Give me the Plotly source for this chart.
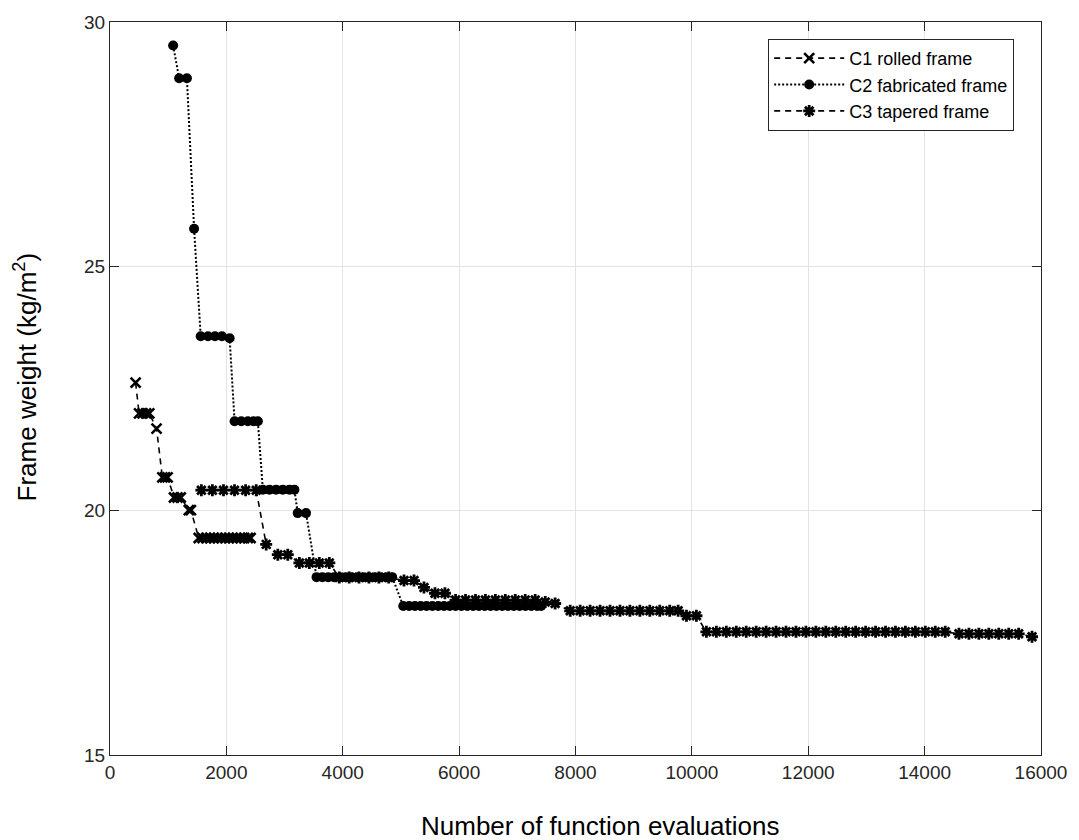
import plotly.graph_objects as go

# ---------------- data ----------------
c1_evals = [440, 500, 560, 620, 675, 800, 900, 945, 990, 1100, 1160, 1215, 1355, 1390,
            1525, 1590, 1655, 1720, 1785, 1850, 1915, 1980, 2045, 2110, 2175, 2240, 2305, 2370, 2416]
c1_weight = [22.62, 21.99, 21.99, 21.99, 21.99, 21.68, 20.68, 20.68, 20.68, 20.27, 20.27, 20.27, 20.01, 20.01,
             19.44, 19.44, 19.44, 19.44, 19.44, 19.44, 19.44, 19.44, 19.44, 19.44, 19.44, 19.44, 19.44, 19.44, 19.44]

c2_evals = [1085, 1188, 1322, 1445,
            1559, 1684, 1804, 1924, 2056,
            2141, 2256, 2370, 2467, 2541,
            2627, 2741, 2855, 2969, 3084, 3169,
            3226, 3369,
            3550, 3650, 3750, 3850, 3950, 4050, 4150, 4250, 4350, 4450, 4550, 4650, 4750, 4850,
            5040, 5140, 5240, 5340, 5440, 5540, 5640, 5740, 5840, 5940, 6040, 6140, 6240, 6340,
            6440, 6540, 6640, 6740, 6840, 6940, 7040, 7140, 7240, 7340, 7410]
c2_weight = [29.52, 28.85, 28.85, 25.77,
             23.57, 23.57, 23.57, 23.57, 23.53,
             21.83, 21.83, 21.83, 21.83, 21.83,
             20.43, 20.43, 20.43, 20.43, 20.43, 20.43,
             19.95, 19.95,
             18.64, 18.64, 18.64, 18.64, 18.64, 18.64, 18.64, 18.64, 18.64, 18.64, 18.64, 18.64, 18.64, 18.64,
             18.05, 18.05, 18.05, 18.05, 18.05, 18.05, 18.05, 18.05, 18.05, 18.05, 18.05, 18.05, 18.05, 18.05,
             18.05, 18.05, 18.05, 18.05, 18.05, 18.05, 18.05, 18.05, 18.05, 18.05, 18.05]

c3_evals = [1570, 1760, 1950, 2140, 2330, 2513,
            2684, 2884, 3055,
            3255, 3426, 3597, 3769,
            3940, 4110, 4280, 4450, 4620, 4790,
            5053, 5225, 5396, 5585, 5756,
            5939, 6110, 6281, 6452, 6623, 6794, 6965, 7136, 7307, 7480, 7650,
            7909, 8080, 8251, 8422, 8593, 8764, 8935, 9106, 9277, 9448, 9619, 9764,
            9907, 10078,
            10250, 10421, 10592, 10763, 10934, 11105, 11276, 11447, 11618, 11789, 11960, 12131, 12302,
            12473, 12644, 12815, 12986, 13157, 13328, 13499, 13670, 13841, 14012, 14183, 14354,
            14590, 14761, 14932, 15103, 15274, 15445, 15616, 15846]
c3_weight = [20.42, 20.42, 20.42, 20.42, 20.42, 20.42,
             19.31, 19.10, 19.10,
             18.93, 18.93, 18.93, 18.93,
             18.63, 18.63, 18.63, 18.63, 18.63, 18.63,
             18.57, 18.57, 18.43, 18.31, 18.31,
             18.17, 18.17, 18.17, 18.17, 18.17, 18.17, 18.17, 18.17, 18.17, 18.13, 18.10,
             17.95, 17.95, 17.95, 17.95, 17.95, 17.95, 17.95, 17.95, 17.95, 17.95, 17.95, 17.95,
             17.85, 17.85,
             17.52, 17.52, 17.52, 17.52, 17.52, 17.52, 17.52, 17.52, 17.52, 17.52, 17.52, 17.52, 17.52,
             17.52, 17.52, 17.52, 17.52, 17.52, 17.52, 17.52, 17.52, 17.52, 17.52, 17.52, 17.52,
             17.48, 17.48, 17.48, 17.48, 17.48, 17.48, 17.48, 17.42]

series_names = ["C1 rolled frame", "C2 fabricated frame", "C3 tapered frame"]
x_ticks = [0, 2000, 4000, 6000, 8000, 10000, 12000, 14000, 16000]
y_ticks = [15, 20, 25, 30]

# ---------------- figure ----------------
FONT = "Arial, Liberation Sans, sans-serif"
AX = "#262626"

fig = go.Figure()
fig.add_trace(go.Scatter(
    x=c1_evals, y=c1_weight, name=series_names[0], mode="lines+markers",
    line=dict(color="black", width=1.6, dash="6px,5px"),
    marker=dict(symbol="x-thin-open", size=10, color="black", line=dict(color="black", width=2.6)),
))
fig.add_trace(go.Scatter(
    x=c2_evals, y=c2_weight, name=series_names[1], mode="lines+markers",
    line=dict(color="black", width=2, dash="2px,2px"),
    marker=dict(symbol="circle", size=10, color="black"),
))
fig.add_trace(go.Scatter(
    x=c3_evals, y=c3_weight, name=series_names[2], mode="lines+markers",
    line=dict(color="black", width=1.6, dash="6px,5px"),
    marker=dict(symbol="asterisk-open", size=10, color="black", line=dict(color="black", width=2.8)),
))

fig.update_layout(
    width=1079, height=840,
    margin=dict(l=110, r=34, t=18, b=85),
    paper_bgcolor="white", plot_bgcolor="white",
    font=dict(family=FONT, size=19, color=AX),
    showlegend=True,
    legend=dict(
        x=(771 - 110) / 935, y=1 - (35 - 18) / 737, xanchor="left", yanchor="top",
        bgcolor="white", bordercolor=AX, borderwidth=1,
        font=dict(family=FONT, size=18, color="black"),
        itemwidth=70, tracegroupgap=0,
    ),
    xaxis=dict(
        range=[0, 16000], tickvals=x_ticks, ticktext=[str(v) for v in x_ticks],
        showgrid=True, gridcolor="#e3e3e3", gridwidth=1,
        showline=True, linecolor=AX, linewidth=1, mirror="ticks",
        ticks="inside", ticklen=9, tickcolor=AX, zeroline=False,
        tickfont=dict(family=FONT, size=19, color=AX),
    ),
    yaxis=dict(
        range=[15, 30], tickvals=y_ticks, ticktext=[str(v) for v in y_ticks],
        showgrid=True, gridcolor="#e3e3e3", gridwidth=1,
        showline=True, linecolor=AX, linewidth=1, mirror="ticks",
        ticks="inside", ticklen=9, tickcolor=AX, zeroline=False,
        tickfont=dict(family=FONT, size=19, color=AX),
    ),
    annotations=[
        dict(text="Number of function evaluations", xref="paper", yref="paper",
             x=(602 - 110) / 935, y=1 - (826 - 18) / 737, xanchor="center", yanchor="middle",
             showarrow=False, font=dict(family=FONT, size=26, color="black")),
        dict(text="Frame weight (kg/m<sup>2</sup>)", xref="paper", yref="paper",
             x=(25 - 110) / 935, y=1 - (375 - 18) / 737, xanchor="center", yanchor="middle",
             textangle=-90, showarrow=False, font=dict(family=FONT, size=26, color="black")),
    ],
)

fig.write_html("out.html")
